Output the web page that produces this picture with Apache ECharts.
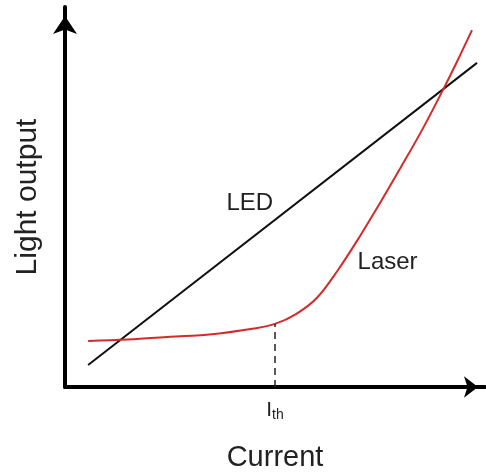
<!DOCTYPE html>
<html>
<head>
<meta charset="utf-8">
<script src="https://cdn.jsdelivr.net/npm/echarts@6/dist/echarts.min.js"></script>
<style>html,body{margin:0;padding:0;background:#fff}#c{width:486px;height:472px}</style>
</head>
<body>
<div id="c"></div>
<script>
// LED: straight line (current, light output)
const ledX = [5.5, 98.1];
const ledY = [5.8, 85.3];
// Laser: flat below threshold, steep above
const laserX = [5.5, 15, 25, 35, 45, 50, 55, 60, 65, 70, 75, 80, 85, 90, 93.5, 96.9];
const laserY = [12.1, 12.5, 13.2, 13.9, 15.4, 16.6, 19.2, 23.5, 30.8, 39.3, 48.4, 57.9, 67.6, 78.2, 86.0, 93.9];
// threshold current
const ithX = 50.0;
const ithY = 16.6;
const xTickLabel = 'I';
const xTickSub = 'th';
const xName = 'Current';
const yName = 'Light output';
const ledLabel = {text: 'LED', x: 44.0, y: 48.4};
const laserLabel = {text: 'Laser', x: 76.8, y: 32.9};

const chart = echarts.init(document.getElementById('c'));
const font = 'Liberation Sans, Arial, sans-serif';
chart.setOption({
  animation: false,
  grid: {left: 65, right: 1, top: 7, bottom: 85, outerBoundsMode: 'none', containLabel: false},
  xAxis: {
    type: 'value', min: 0, max: 100, interval: 50,
    name: xName, nameLocation: 'middle', nameGap: 56,
    nameTextStyle: {fontFamily: font, fontSize: 29, color: '#222'},
    axisLine: {lineStyle: {color: '#000', width: 4}, symbol: ['none', 'arrow'], symbolSize: [16, 14], symbolOffset: [0, -7]},
    axisTick: {show: false},
    splitLine: {show: false},
    axisLabel: {
      margin: 11,
      formatter: v => v === ithX ? '{a|' + xTickLabel + '}{b|' + xTickSub + '}' : '',
      rich: {
        a: {fontFamily: font, fontSize: 21, color: '#222'},
        b: {fontFamily: font, fontSize: 14, color: '#222', padding: [10, 0, 0, 0]}
      }
    }
  },
  yAxis: {
    type: 'value', min: 0, max: 100, interval: 50,
    name: yName, nameLocation: 'middle', nameGap: 22,
    nameTextStyle: {fontFamily: font, fontSize: 30, color: '#222'},
    axisLine: {lineStyle: {color: '#000', width: 4}, symbol: ['none', 'arrow'], symbolSize: [18, 18], symbolOffset: [0, -9]},
    axisTick: {show: false},
    splitLine: {show: false},
    axisLabel: {show: false}
  },
  series: [
    {
      type: 'line', name: 'LED', symbol: 'none',
      data: ledX.map((x, i) => [x, ledY[i]]),
      lineStyle: {color: '#111', width: 2},
      markPoint: {
        symbol: 'circle', symbolSize: 0,
        label: {show: true, position: 'inside', formatter: ledLabel.text, fontFamily: font, fontSize: 24, color: '#222'},
        data: [{coord: [ledLabel.x, ledLabel.y]}]
      }
    },
    {
      type: 'line', name: 'Laser', symbol: 'none', smooth: 0.35,
      data: laserX.map((x, i) => [x, laserY[i]]),
      lineStyle: {color: '#d42a2a', width: 2},
      markPoint: {
        symbol: 'circle', symbolSize: 0,
        label: {show: true, position: 'inside', formatter: laserLabel.text, fontFamily: font, fontSize: 24, color: '#222'},
        data: [{coord: [laserLabel.x, laserLabel.y]}]
      }
    },
    {
      type: 'line', name: 'Ith', symbol: 'none',
      data: [[ithX, 0], [ithX, ithY]],
      lineStyle: {color: '#222', width: 1.5, type: [7, 5]}
    }
  ]
});
</script>
</body>
</html>
